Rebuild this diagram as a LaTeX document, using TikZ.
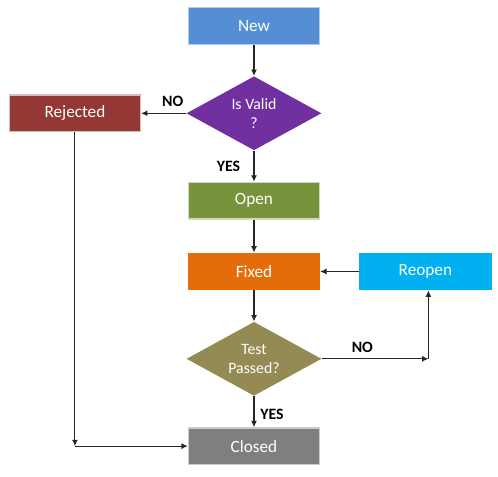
\documentclass[tikz,border=0pt]{standalone}
\usepackage{fontspec}
\setmainfont{Carlito}
\usetikzlibrary{arrows.meta,positioning,shapes.geometric}
\definecolor{cNew}{HTML}{558ED5}
\definecolor{cValid}{HTML}{7030A0}
\definecolor{cRejected}{HTML}{953735}
\definecolor{cOpen}{HTML}{77933C}
\definecolor{cFixed}{HTML}{E46C0A}
\definecolor{cReopen}{HTML}{00B0F0}
\definecolor{cTest}{HTML}{948A54}
\definecolor{cClosed}{HTML}{7F7F7F}

\begin{document}
\begin{tikzpicture}[
        node distance=0.62cm and 0.9cm,
        box/.style={rectangle,line width=0.8pt,minimum width=2.62cm,minimum height=0.73cm,align=center,text=white,font=\fontsize{9.8}{11}\selectfont},
        decision/.style={diamond,aspect=1.9,minimum width=2.7cm,minimum height=1.48cm,inner sep=0pt,align=center,text=white,font=\fontsize{9}{11}\selectfont},
        arrow/.style={-{Latex[length=3.6pt,width=3.4pt]},line width=0.6pt,draw=black!85},
        lbl/.style={font=\bfseries\fontsize{9}{10}\selectfont,text=black}
    ]
        \useasboundingbox (0,0) rectangle (9.96,-9.54);

        \node[box, fill=cNew, draw=cNew!45] (new) at (5.08,-0.52) {New};
        \node[decision, fill=cValid, below=of new] (valid) {Is Valid\\?};
        \node[box, fill=cRejected, draw=cRejected!35, left=of valid] (rejected) {Rejected};
        \node[box, fill=cOpen, draw=cOpen!35, below=of valid] (open) {Open};
        \node[box, fill=cFixed, draw=cFixed, below=0.66cm of open] (fixed) {Fixed};
        \node[box, fill=cReopen, draw=cReopen, right=0.78cm of fixed] (reopen) {Reopen};
        \node[decision, fill=cTest, below=of fixed] (test) {Test\\Passed?};
        \node[box, fill=cClosed, draw=cClosed!40, below=of test] (closed) {Closed};

        \coordinate (rejend) at (rejected |- closed);
        \coordinate (noend) at ([xshift=0.06cm]reopen |- test);

        \draw[arrow] (new) -- (valid);
        \draw[arrow] (valid.west) -- node[lbl, pos=0.3, above] {NO} (rejected.east);
        \draw[arrow] (valid.south) -- node[lbl, left=0.15cm] {YES} (open.north);
        \draw[arrow] (open) -- (fixed);
        \draw[arrow] (fixed) -- (test);
        \draw[arrow] (reopen.west) -- (fixed.east);
        \draw[arrow] (test.east) -- node[lbl, pos=0.38, above] {NO} (noend);
        \draw[arrow] (noend) -- (noend |- reopen.south);
        \draw[arrow] (test.south) -- node[lbl, pos=0.6, right] {YES} (closed.north);
        \draw[arrow] (rejected.south) -- (rejend);
        \draw[arrow] (rejend) -- (closed.west);
    \end{tikzpicture}
\end{document}
